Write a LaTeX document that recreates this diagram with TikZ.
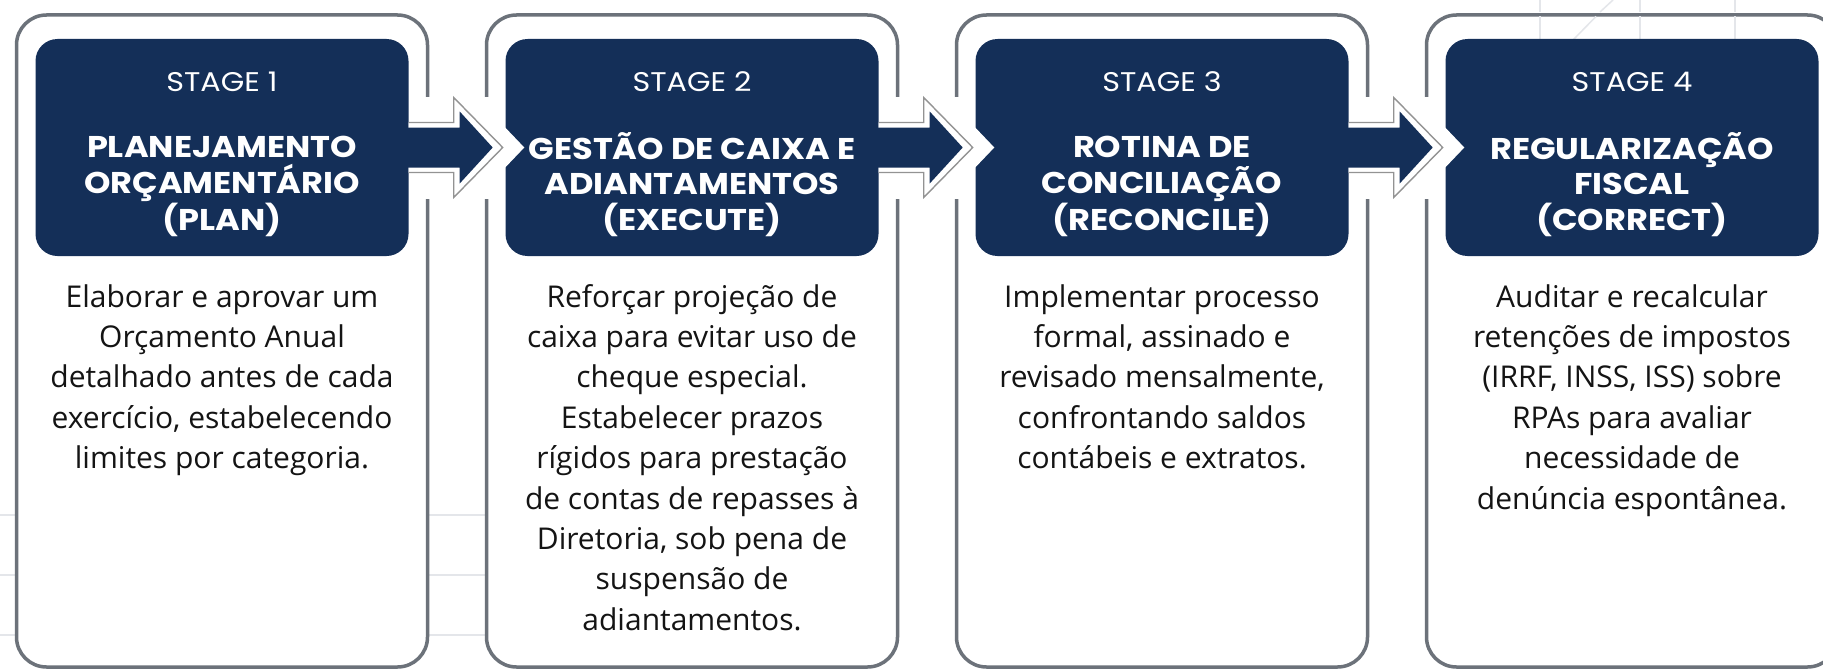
\documentclass[tikz,border=0pt]{standalone}
\usepackage{fontspec}
\setmainfont{Open Sans}
\newfontfamily\headfont[FakeStretch=1.12]{Poppins}
\newfontfamily\stagefont[FakeStretch=1.12]{Poppins}
\usetikzlibrary{calc}
\definecolor{navy}{RGB}{20,47,88}
\definecolor{cardgrey}{RGB}{108,114,122}
\definecolor{gridgrey}{RGB}{228,230,234}
\definecolor{bodyink}{RGB}{20,20,20}
\tikzset{
  card/.style={draw=cardgrey, line width=3.5pt, fill=white, rounded corners=30pt,
    minimum width=411pt, minimum height=652pt, inner sep=0pt},
  header/.style={fill=navy, rounded corners=22pt, minimum width=373pt,
    minimum height=217pt, inner sep=0pt},
  stagelbl/.style={anchor=base, text=white, inner sep=0pt,
    font=\stagefont\fontsize{27}{30}\selectfont},
  titlelbl/.style={anchor=base, text=white, inner sep=0pt, align=center,
    font=\headfont\bfseries\fontsize{30}{35.5}\selectfont},
  bodytxt/.style={anchor=base, text=bodyink, inner sep=0pt, align=center,
    font=\fontsize{30}{40.4}\selectfont},
  arrowline/.style={draw=gray!85, line width=1.4pt, fill=white},
  gridline/.style={draw=gridgrey, line width=1.5pt}
}
\newcommand\stagearrow[2]{%
  \fill[white] ($(#1.east)+(9,-51)$) rectangle ($(#1.east)+(88,51)$);
  \fill[white] ($(#2.west)+(-2,-22)$) -- ($(#2.west)+(19,0)$) -- ($(#2.west)+(-2,22)$) -- cycle;
  \path[arrowline] ($(#1.east)+(0,-25)$) -- ($(#1.east)+(45,-25)$) -- ($(#1.east)+(45,-50)$)
     -- ($(#1.east)+(94,0)$) -- ($(#1.east)+(45,50)$) -- ($(#1.east)+(45,25)$) -- ($(#1.east)+(0,25)$);
  \fill[navy] ($(#1.east)+(-1,-20)$) -- ($(#1.east)+(51,-20)$) -- ($(#1.east)+(51,-36)$)
     -- ($(#1.east)+(84,0)$) -- ($(#1.east)+(51,36)$) -- ($(#1.east)+(51,20)$) -- ($(#1.east)+(-1,20)$) -- cycle;
}
\begin{document}
\begin{tikzpicture}[x=1pt,y=-1pt]
\useasboundingbox (0,0) rectangle (1823,669);
\clip (0,0) rectangle (1823,669);
\fill[white] (0,0) rectangle (1823,669);
% faint background grid
\foreach \yy in {515,575,635} \draw[gridline] (0,\yy) -- (490,\yy);
% cards
\node[card] (c1) at (222,341) {};
\node[card] (c2) at (692,341) {};
\node[card] (c3) at (1162,341) {};
\node[card] (c4) at (1632,341) {};
\foreach \xx in {1540,1640,1735} {
  \draw[gridline] (\xx,0) -- (\xx,12);
  \draw[gridline] (\xx,16.5) -- (\xx,40);
}
\draw[gridline] (1613,0) -- (1600,12);
\draw[gridline] (1596,16.5) -- (1573,40);
% headers
\node[header] (h1) at (222,147.5) {};
\node[header] (h2) at (692,147.5) {};
\node[header] (h3) at (1162,147.5) {};
\node[header] (h4) at (1632,147.5) {};
% arrows
\stagearrow{h1}{h2}
\stagearrow{h2}{h3}
\stagearrow{h3}{h4}
% header texts (anchor base = last line)
\node[stagelbl] (s1) at (222,92) {STAGE 1};
\node[stagelbl] (s2) at (692,92) {STAGE 2};
\node[stagelbl] (s3) at (1162,92) {STAGE 3};
\node[stagelbl] (s4) at (1632,92) {STAGE 4};
\node[titlelbl] (t1) at (222,230) {PLANEJAMENTO\\ORÇAMENTÁRIO\\(PLAN)};
\node[titlelbl] (t2) at (692,230) {GESTÃO DE CAIXA E\\ADIANTAMENTOS\\(EXECUTE)};
\node[titlelbl] (t3) at (1162,230) {ROTINA DE\\CONCILIAÇÃO\\(RECONCILE)};
\node[titlelbl] (t4) at (1632,230) {REGULARIZAÇÃO\\FISCAL\\(CORRECT)};
% body texts
\node[bodytxt] (b1) at (222,468.6) {Elaborar e aprovar um\\Orçamento Anual\\detalhado antes de cada\\exercício, estabelecendo\\limites por categoria.};
\node[bodytxt] (b2) at (692,630.2) {Reforçar projeção de\\caixa para evitar uso de\\cheque especial.\\Estabelecer prazos\\rígidos para prestação\\de contas de repasses à\\Diretoria, sob pena de\\suspensão de\\adiantamentos.};
\node[bodytxt] (b3) at (1162,468.6) {Implementar processo\\formal, assinado e\\revisado mensalmente,\\confrontando saldos\\contábeis e extratos.};
\node[bodytxt] (b4) at (1632,509) {Auditar e recalcular\\retenções de impostos\\(IRRF, INSS, ISS) sobre\\RPAs para avaliar\\necessidade de\\denúncia espontânea.};
\end{tikzpicture}
\end{document}
